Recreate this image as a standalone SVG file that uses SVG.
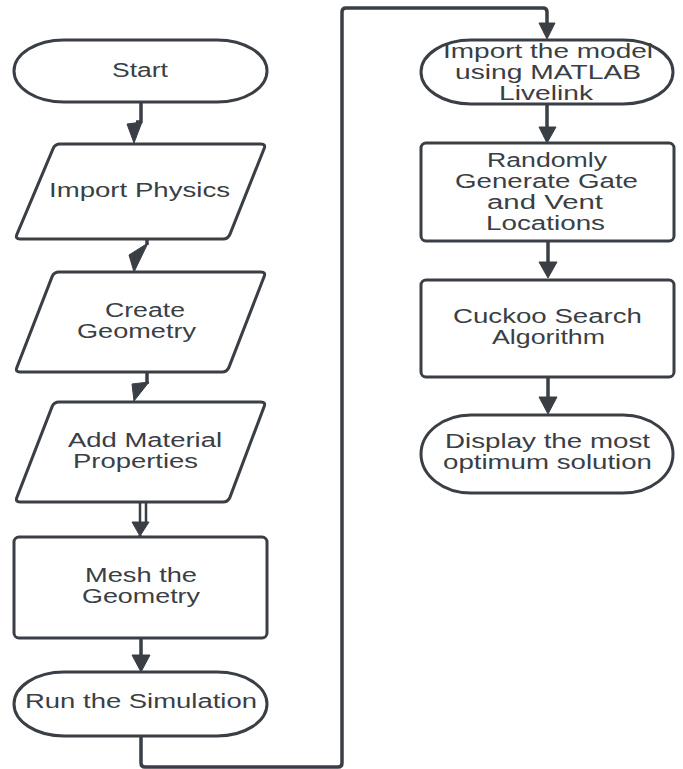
<svg xmlns="http://www.w3.org/2000/svg" width="683" height="769" viewBox="0 0 683 769">
<style>
.shape{fill:#ffffff;stroke:#3a3e45;stroke-width:3;stroke-linejoin:round}
.line{fill:none;stroke:#3a3e45;stroke-width:3.5;stroke-linejoin:round}
.head{fill:#3a3e45;stroke:#3a3e45;stroke-width:1;stroke-linejoin:round}
.lbl{font-family:"Liberation Sans",Arial,sans-serif;font-size:19.5px;fill:#3a3e45}
</style>
<rect width="683" height="769" fill="#ffffff"/>
<g id="connectors">
<path class="line" d="M141,102 V122 H136"/>
<polygon class="head" points="127,124 142,122 134,143"/>
<path class="line" d="M147,239 V245"/>
<polygon class="head" points="129,255 148,243 134,272"/>
<path class="line" d="M147,372 V384"/>
<polygon class="head" points="132,384 149,382 134,401"/>
<path class="line" style="stroke-width:2.5" d="M140,503 V523 M146,503 V523"/>
<polygon class="head" points="132,522 149,522 140,536"/>
<path class="line" d="M140,535 V541"/>
<polygon class="head" points="132,540 149,540 140,558"/>
<path class="line" d="M141,638 V656"/>
<polygon class="head" points="132,655 150,655 141,672"/>
<path class="line" d="M141,736 V763 Q141,767 145,767 H338 Q342,767 342,763 V12 Q342,8 346,8 H543 Q547,8 547,12 V24"/>
<polygon class="head" points="539,23 555,23 547,39"/>
<path class="line" d="M547,104 V128"/>
<polygon class="head" points="539,127 556,127 547,143"/>
<path class="line" d="M548,241 V263"/>
<polygon class="head" points="539,262 557,262 548,278"/>
<path class="line" d="M548,377 V398"/>
<polygon class="head" points="539,397 557,397 548,414"/>
</g>
<g id="start">
<rect class="shape" x="14" y="40" width="253" height="62" rx="50" ry="31"/>
<text class="lbl" x="112" y="77" textLength="56" lengthAdjust="spacingAndGlyphs">Start</text>
</g>
<g id="import-physics">
<path class="shape" d="M60,144 H261 Q266,144 264.1,148.6 L229.9,234.4 Q228,239 223,239 H20 Q15,239 16.9,234.4 L53.1,148.6 Q55,144 60,144 Z"/>
<text class="lbl" x="49" y="197" textLength="181" lengthAdjust="spacingAndGlyphs">Import Physics</text>
</g>
<g id="create-geometry">
<path class="shape" d="M59,272 H261 Q266,272 264.1,276.6 L228.9,367.4 Q227,372 222,372 H20 Q15,372 16.9,367.4 L52.1,276.6 Q54,272 59,272 Z"/>
<text class="lbl" x="105" y="317" textLength="80" lengthAdjust="spacingAndGlyphs">Create</text>
<text class="lbl" x="77" y="338" textLength="119" lengthAdjust="spacingAndGlyphs">Geometry</text>
</g>
<g id="add-material">
<path class="shape" d="M59,402 H261 Q266,402 264.1,406.6 L229.9,497.4 Q228,502 223,502 H20 Q15,502 16.9,497.4 L52.1,406.6 Q54,402 59,402 Z"/>
<text class="lbl" x="68" y="447" textLength="154" lengthAdjust="spacingAndGlyphs">Add Material</text>
<text class="lbl" x="73" y="468" textLength="125" lengthAdjust="spacingAndGlyphs">Properties</text>
</g>
<g id="mesh">
<rect class="shape" x="14" y="537" width="253" height="101" rx="5"/>
<text class="lbl" x="85" y="582" textLength="112" lengthAdjust="spacingAndGlyphs">Mesh the</text>
<text class="lbl" x="82" y="603" textLength="118" lengthAdjust="spacingAndGlyphs">Geometry</text>
</g>
<g id="run-simulation">
<rect class="shape" x="14" y="672" width="253" height="64" rx="50" ry="32"/>
<text class="lbl" x="25" y="708" textLength="232" lengthAdjust="spacingAndGlyphs">Run the Simulation</text>
</g>
<g id="import-model">
<rect class="shape" x="421" y="40" width="252" height="64" rx="50" ry="32"/>
<text class="lbl" x="443" y="58" textLength="210" lengthAdjust="spacingAndGlyphs">Import the model</text>
<text class="lbl" x="455" y="79" textLength="186" lengthAdjust="spacingAndGlyphs">using MATLAB</text>
<text class="lbl" x="499" y="100" textLength="94" lengthAdjust="spacingAndGlyphs">Livelink</text>
</g>
<g id="randomly-generate">
<rect class="shape" x="421" y="143" width="253" height="98" rx="5"/>
<text class="lbl" x="487" y="167" textLength="120" lengthAdjust="spacingAndGlyphs">Randomly</text>
<text class="lbl" x="455" y="188" textLength="183" lengthAdjust="spacingAndGlyphs">Generate Gate</text>
<text class="lbl" x="487" y="209" textLength="116" lengthAdjust="spacingAndGlyphs">and Vent</text>
<text class="lbl" x="486" y="230" textLength="119" lengthAdjust="spacingAndGlyphs">Locations</text>
</g>
<g id="cuckoo">
<rect class="shape" x="421" y="280" width="253" height="97" rx="5"/>
<text class="lbl" x="453" y="323" textLength="189" lengthAdjust="spacingAndGlyphs">Cuckoo Search</text>
<text class="lbl" x="492" y="344" textLength="113" lengthAdjust="spacingAndGlyphs">Algorithm</text>
</g>
<g id="display">
<rect class="shape" x="421" y="415" width="252" height="78" rx="50" ry="39"/>
<text class="lbl" x="445" y="448" textLength="205" lengthAdjust="spacingAndGlyphs">Display the most</text>
<text class="lbl" x="443" y="469" textLength="209" lengthAdjust="spacingAndGlyphs">optimum solution</text>
</g>
</svg>
